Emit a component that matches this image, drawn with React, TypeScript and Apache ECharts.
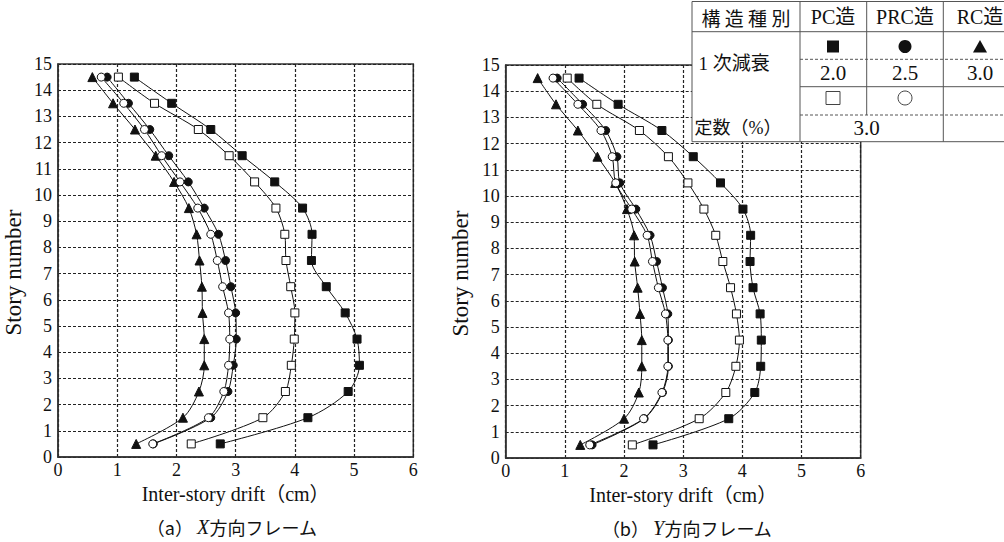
import React, { useEffect, useRef } from "react";
import * as echarts from "echarts";

const stories = [0.5, 1.5, 2.5, 3.5, 4.5, 5.5, 6.5, 7.5, 8.5, 9.5, 10.5, 11.5, 12.5, 13.5, 14.5];
const xTicks = ["0", "1", "2", "3", "4", "5", "6"];

// (a) X direction
const xPC20 = [2.74, 4.22, 4.9, 5.09, 5.05, 4.85, 4.53, 4.28, 4.29, 4.13, 3.66, 3.11, 2.58, 1.92, 1.29];
const xPC30 = [2.25, 3.46, 3.84, 3.94, 3.99, 4.0, 3.93, 3.85, 3.83, 3.68, 3.32, 2.89, 2.37, 1.63, 1.02];
const xPRC25 = [1.61, 2.58, 2.87, 2.96, 3.01, 3.0, 2.92, 2.83, 2.71, 2.47, 2.2, 1.87, 1.55, 1.19, 0.83];
const xPRC30 = [1.6, 2.54, 2.8, 2.88, 2.9, 2.88, 2.78, 2.69, 2.58, 2.36, 2.06, 1.75, 1.46, 1.11, 0.73];
const xRC30 = [1.32, 2.11, 2.38, 2.47, 2.47, 2.44, 2.43, 2.39, 2.34, 2.21, 1.96, 1.65, 1.3, 0.93, 0.58];

// (b) Y direction
const yPC20 = [2.49, 3.77, 4.21, 4.31, 4.32, 4.3, 4.18, 4.13, 4.14, 4.01, 3.63, 3.17, 2.64, 1.9, 1.24];
const yPC30 = [2.14, 3.27, 3.72, 3.89, 3.95, 3.9, 3.8, 3.67, 3.55, 3.35, 3.08, 2.75, 2.26, 1.54, 1.04];
const yPRC25 = [1.46, 2.34, 2.65, 2.75, 2.75, 2.74, 2.65, 2.55, 2.44, 2.2, 1.93, 1.88, 1.69, 1.3, 0.87];
const yPRC30 = [1.42, 2.33, 2.64, 2.74, 2.74, 2.7, 2.58, 2.48, 2.39, 2.13, 1.86, 1.8, 1.61, 1.22, 0.8];
const yRC30 = [1.26, 2.0, 2.25, 2.3, 2.3, 2.27, 2.23, 2.18, 2.17, 2.05, 1.85, 1.55, 1.22, 0.85, 0.54];

const seriesKinds = [
  { name: "PC造 2.0", symbol: "rect", filled: true, size: 8 },
  { name: "PC造 3.0", symbol: "rect", filled: false, size: 8 },
  { name: "PRC造 2.5", symbol: "circle", filled: true, size: 8 },
  { name: "PRC造 3.0", symbol: "circle", filled: false, size: 8 },
  { name: "RC造 3.0", symbol: "triangle", filled: true, size: 9 },
];

// legend table texts
const tableHeader = ["構 造 種 別", "PC造", "PRC造", "RC造"];
const tableRowLabels = ["1 次減衰", "定数（%）"];
const tableValues1 = ["2.0", "2.5", "3.0"];
const tableValues2 = ["3.0"];
const captions = ["（a） {i|X}方向フレーム", "（b） {i|Y}方向フレーム"];

const FONT = "Liberation Serif, Noto Sans CJK JP, serif";
const CJK = "Noto Sans CJK JP, Liberation Serif, serif";

export default function App() {
  const ref = useRef<HTMLDivElement>(null);
  useEffect(() => {
    if (!ref.current) return;
    const chart = echarts.init(ref.current, null, { renderer: "svg" });
    const sets = [
      [xPC20, xPC30, xPRC25, xPRC30, xRC30],
      [yPC20, yPC30, yPRC25, yPRC30, yRC30],
    ];
    const series: any[] = [];
    sets.forEach((arrs, gi) => {
      arrs.forEach((vals, si) => {
        const k = seriesKinds[si];
        series.push({
          type: "line",
          name: k.name,
          xAxisIndex: gi,
          yAxisIndex: gi,
          data: vals.map((v, i) => [v, stories[i]]),
          symbol: k.symbol,
          symbolSize: k.size,
          smooth: 0.3,
          lineStyle: { color: "#111", width: 1 },
          itemStyle: {
            color: k.filled ? "#111" : "#fff",
            borderColor: "#111",
            borderWidth: 1,
          },
          z: k.filled ? 3 : 4,
        });
      });
    });

    const xAxisBase = (gi: number) => ({
      type: "value",
      gridIndex: gi,
      min: 0,
      max: 6,
      interval: 1,
      name: "Inter-story drift（cm）",
      nameLocation: "middle",
      nameGap: 27,
      nameTextStyle: { fontFamily: FONT, fontSize: 20, color: "#111" },
      axisLine: { show: true, onZero: false, lineStyle: { color: "#333", width: 1.5 } },
      axisTick: { show: false },
      axisLabel: {
        fontFamily: FONT,
        fontSize: 18,
        color: "#111",
        margin: 4,
        formatter: (v: number) => xTicks[Math.round(v)] ?? String(v),
      },
      splitLine: { show: true, lineStyle: { color: "#222", width: 1.2, type: [3, 2] } },
    });
    const yAxisBase = (gi: number, gap: number) => ({
      type: "value",
      gridIndex: gi,
      min: 0,
      max: 15,
      interval: 1,
      name: "Story number",
      nameLocation: "middle",
      nameGap: gap,
      nameTextStyle: { fontFamily: FONT, fontSize: 23, color: "#111", padding: [0, 24, 0, 0] },
      axisLine: { show: true, onZero: false, lineStyle: { color: "#333", width: 1.5 } },
      axisTick: { show: false },
      axisLabel: { fontFamily: FONT, fontSize: 18, color: "#111", margin: 6 },
      splitLine: { show: true, lineStyle: { color: "#222", width: 1.2, type: [3, 2] } },
    });

    // legend table graphics
    const tx0 = 692, tx1 = 1010, ty0 = 1.5, ty1 = 141.7;
    const c1 = 800, c2 = 866.7, c3 = 943.3;
    const r1 = 31.7, r2 = 59.3, r3 = 86.7, r4 = 115;
    const lineCol = "#555";
    const mkLine = (x1: number, y1: number, x2: number, y2: number, dashed = false) => ({
      type: "line",
      shape: { x1, y1, x2, y2 },
      style: { stroke: lineCol, lineWidth: 1, lineDash: dashed ? [3, 2] : null },
      z: 101,
    });
    const mkText = (text: string, x: number, y: number, font = FONT, size = 19) => ({
      type: "text",
      x,
      y,
      style: {
        text,
        fill: "#111",
        font: `${size}px ${font}`,
        align: "center",
        verticalAlign: "middle",
      },
      z: 102,
    });
    const colCenters = [833, 905, 980];
    const captionStyle = (text: string) => ({
      rich: {
        i: { fontStyle: "italic", fontFamily: FONT, fontSize: 20, fill: "#111" },
      },
      text,
      fontFamily: CJK,
      fontSize: 18,
      fill: "#111",
      align: "center",
      verticalAlign: "middle",
    });
    const graphic: any[] = [
      { type: "rect", shape: { x: tx0, y: ty0, width: tx1 - tx0, height: ty1 - ty0 }, style: { fill: "#fff", stroke: lineCol, lineWidth: 1 }, z: 100 },
      mkLine(tx0, r1, tx1, r1),
      mkLine(c1, ty0, c1, ty1),
      mkLine(c2, ty0, c2, r4),
      mkLine(c3, ty0, c3, ty1),
      mkLine(c1, r2, tx1, r2, true),
      mkLine(c1, r3, tx1, r3),
      mkLine(c1, r4, tx1, r4, true),
      mkText(tableHeader[0], 746, 17, CJK, 19),
      mkText(tableHeader[1], colCenters[0], 17, FONT, 20),
      mkText(tableHeader[2], colCenters[1], 17, FONT, 20),
      mkText(tableHeader[3], colCenters[2], 17, FONT, 20),
      mkText(tableRowLabels[0], 734, 63, FONT, 19),
      mkText(tableRowLabels[1], 738, 128, FONT, 18),
      mkText(tableValues1[0], colCenters[0], 73, FONT, 21),
      mkText(tableValues1[1], colCenters[1], 73, FONT, 21),
      mkText(tableValues1[2], colCenters[2], 73, FONT, 21),
      mkText(tableValues2[0], c2, 128, FONT, 21),
      { type: "rect", shape: { x: colCenters[0] - 6, y: 40.5, width: 12, height: 12 }, style: { fill: "#111" }, z: 102 },
      { type: "circle", shape: { cx: colCenters[1], cy: 46.5, r: 6.5 }, style: { fill: "#111" }, z: 102 },
      { type: "polygon", shape: { points: [[colCenters[2], 40], [colCenters[2] - 7, 52.5], [colCenters[2] + 7, 52.5]] }, style: { fill: "#111" }, z: 102 },
      { type: "rect", shape: { x: colCenters[0] - 7, y: 91.5, width: 14, height: 13 }, style: { fill: "#fff", stroke: "#444", lineWidth: 1 }, z: 102 },
      { type: "circle", shape: { cx: colCenters[1], cy: 98, r: 7 }, style: { fill: "#fff", stroke: "#444", lineWidth: 1 }, z: 102 },
      // captions
      { type: "text", x: 232, y: 527, style: captionStyle(captions[0]) },
      { type: "text", x: 687, y: 528, style: captionStyle(captions[1]) },
    ];

    chart.setOption({
      animation: false,
      backgroundColor: "#fff",
      grid: [
        { left: 58, right: 590.7, top: 64, bottom: 85, show: true, borderColor: "#333", borderWidth: 1.5 },
        { left: 505.7, right: 143.3, top: 65, bottom: 84, show: true, borderColor: "#333", borderWidth: 1.5 },
      ],
      xAxis: [xAxisBase(0), xAxisBase(1)],
      yAxis: [yAxisBase(0, 33), yAxisBase(1, 34)],
      series,
      graphic,
    });
    return () => chart.dispose();
  }, []);
  return (
    <div
      ref={ref}
      style={{ position: "fixed", left: 0, top: 0, width: 1004, height: 542, background: "#fff" }}
    />
  );
}
